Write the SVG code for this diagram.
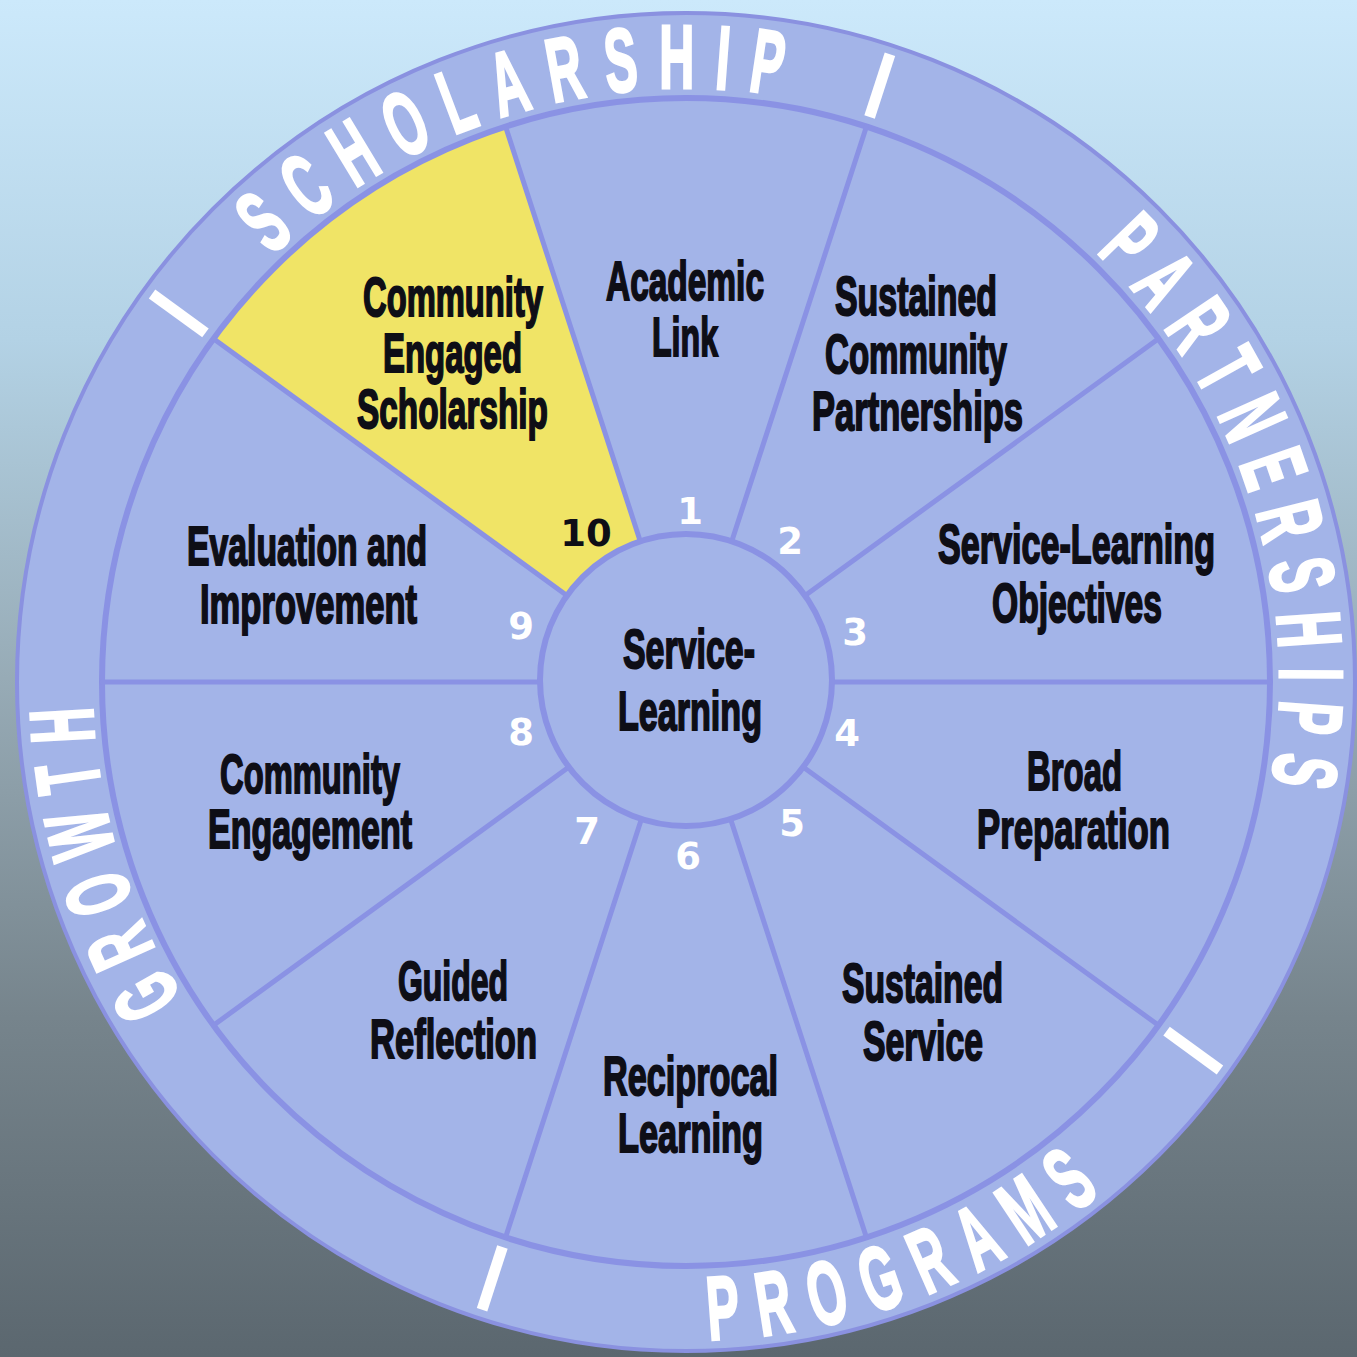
<svg xmlns="http://www.w3.org/2000/svg" width="1357" height="1357" viewBox="0 0 1357 1357">
<defs>
<linearGradient id="bg" x1="0" y1="0" x2="0" y2="1">
<stop offset="0" stop-color="#cce9fb"/>
<stop offset="0.25" stop-color="#b3d2e5"/>
<stop offset="0.5" stop-color="#97abb6"/>
<stop offset="0.75" stop-color="#76848c"/>
<stop offset="1" stop-color="#5b676f"/>
</linearGradient>
<path id="pSch" d="M 271.9 256.2 A 594 594 0 0 1 889.2 123.8"/>
<path id="pPar" d="M 1096.0 252.1 A 594 594 0 0 1 1244.2 885.2"/>
<path id="pGro" d="M 182.8 997.7 A 594 594 0 0 1 127.8 478.8"/>
<path id="pPro" d="M 709.0 1339.6 A 658 658 0 0 0 1190.1 1105.0"/>
</defs>
<style>
.seg{fill:#a3b4e8}
.hl{fill:#f0e466}
.div{stroke:#8a92e4;stroke-width:5;fill:none;stroke-linecap:round}
.lbl{font-family:"Liberation Sans",Arial,sans-serif;font-weight:bold;font-size:56px;fill:#0e0e16;stroke:#0e0e16;stroke-width:2;text-anchor:middle}
.num{font-family:"DejaVu Sans",sans-serif;font-weight:bold;font-size:37px;fill:#ffffff;text-anchor:middle}
.ring{font-family:"Liberation Sans",Arial,sans-serif;font-weight:bold;font-size:90px;fill:#ffffff;stroke:#ffffff;stroke-width:3}
.bar{stroke:#ffffff;stroke-width:11}
</style>
<rect width="1357" height="1357" fill="url(#bg)"/>
<g id="outer-ring">
<circle cx="686" cy="682" r="669" fill="#a3b4e8" stroke="#8a91e0" stroke-width="4"/>
<line class="bar" x1="869.56" y1="117.07" x2="889.95" y2="54.30"/>
<line class="bar" x1="205.44" y1="332.85" x2="152.05" y2="294.06"/>
<line class="bar" x1="502.44" y1="1246.93" x2="482.05" y2="1309.70"/>
<line class="bar" x1="1166.56" y1="1031.15" x2="1219.95" y2="1069.94"/>
<text class="ring" style="letter-spacing:37px"><textPath href="#pSch" textLength="572" lengthAdjust="spacingAndGlyphs">SCHOLARSHIP</textPath></text>
<text class="ring" style="letter-spacing:34px"><textPath href="#pPar" textLength="600" lengthAdjust="spacingAndGlyphs">PARTNERSHIPS</textPath></text>
<text class="ring" style="letter-spacing:33px"><textPath href="#pGro" textLength="326" lengthAdjust="spacingAndGlyphs">GROWTH</textPath></text>
<text class="ring" style="letter-spacing:37px"><textPath href="#pPro" textLength="446" lengthAdjust="spacingAndGlyphs">PROGRAMS</textPath></text>
</g>
<g id="seg1">
<path class="seg" d="M 505.53 126.58 A 584 584 0 0 1 866.47 126.58 L 731.12 543.15 A 146 146 0 0 0 640.88 543.15 Z"/>
<text class="lbl" x="685" y="300" textLength="158" lengthAdjust="spacingAndGlyphs">Academic</text>
<text class="lbl" x="685" y="356" textLength="66" lengthAdjust="spacingAndGlyphs">Link</text>
<text class="num" x="690" y="523.5">1</text>
</g>
<g id="seg2">
<path class="seg" d="M 866.47 126.58 A 584 584 0 0 1 1158.47 338.73 L 804.12 596.18 A 146 146 0 0 0 731.12 543.15 Z"/>
<text class="lbl" x="916" y="315" textLength="162" lengthAdjust="spacingAndGlyphs">Sustained</text>
<text class="lbl" x="916" y="373" textLength="182" lengthAdjust="spacingAndGlyphs">Community</text>
<text class="lbl" x="917.5" y="430" textLength="211" lengthAdjust="spacingAndGlyphs">Partnerships</text>
<text class="num" x="790" y="553.5">2</text>
</g>
<g id="seg3">
<path class="seg" d="M 1158.47 338.73 A 584 584 0 0 1 1270 682 L 832 682 A 146 146 0 0 0 804.12 596.18 Z"/>
<text class="lbl" x="1076.5" y="563" textLength="277" lengthAdjust="spacingAndGlyphs">Service-Learning</text>
<text class="lbl" x="1077" y="622" textLength="170" lengthAdjust="spacingAndGlyphs">Objectives</text>
<text class="num" x="855" y="644.5">3</text>
</g>
<g id="seg4">
<path class="seg" d="M 1270 682 A 584 584 0 0 1 1158.47 1025.27 L 804.12 767.82 A 146 146 0 0 0 832 682 Z"/>
<text class="lbl" x="1074.5" y="790" textLength="95" lengthAdjust="spacingAndGlyphs">Broad</text>
<text class="lbl" x="1073.5" y="848" textLength="193" lengthAdjust="spacingAndGlyphs">Preparation</text>
<text class="num" x="847" y="745.5">4</text>
</g>
<g id="seg5">
<path class="seg" d="M 1158.47 1025.27 A 584 584 0 0 1 866.47 1237.42 L 731.12 820.85 A 146 146 0 0 0 804.12 767.82 Z"/>
<text class="lbl" x="922.5" y="1002" textLength="161" lengthAdjust="spacingAndGlyphs">Sustained</text>
<text class="lbl" x="923" y="1060" textLength="120" lengthAdjust="spacingAndGlyphs">Service</text>
<text class="num" x="792" y="835.5">5</text>
</g>
<g id="seg6">
<path class="seg" d="M 866.47 1237.42 A 584 584 0 0 1 505.53 1237.42 L 640.88 820.85 A 146 146 0 0 0 731.12 820.85 Z"/>
<text class="lbl" x="690.5" y="1095" textLength="175" lengthAdjust="spacingAndGlyphs">Reciprocal</text>
<text class="lbl" x="690.5" y="1152" textLength="145" lengthAdjust="spacingAndGlyphs">Learning</text>
<text class="num" x="688" y="868.5">6</text>
</g>
<g id="seg7">
<path class="seg" d="M 505.53 1237.42 A 584 584 0 0 1 213.53 1025.27 L 567.88 767.82 A 146 146 0 0 0 640.88 820.85 Z"/>
<text class="lbl" x="453" y="1000" textLength="110" lengthAdjust="spacingAndGlyphs">Guided</text>
<text class="lbl" x="453.5" y="1058" textLength="167" lengthAdjust="spacingAndGlyphs">Reflection</text>
<text class="num" x="587" y="843.5">7</text>
</g>
<g id="seg8">
<path class="seg" d="M 213.53 1025.27 A 584 584 0 0 1 102 682 L 540 682 A 146 146 0 0 0 567.88 767.82 Z"/>
<text class="lbl" x="310" y="793" textLength="180" lengthAdjust="spacingAndGlyphs">Community</text>
<text class="lbl" x="310" y="848" textLength="204" lengthAdjust="spacingAndGlyphs">Engagement</text>
<text class="num" x="521" y="744.5">8</text>
</g>
<g id="seg9">
<path class="seg" d="M 102 682 A 584 584 0 0 1 213.53 338.73 L 567.88 596.18 A 146 146 0 0 0 540 682 Z"/>
<text class="lbl" x="307" y="565" textLength="240" lengthAdjust="spacingAndGlyphs">Evaluation and</text>
<text class="lbl" x="308.5" y="623" textLength="217" lengthAdjust="spacingAndGlyphs">Improvement</text>
<text class="num" x="521" y="638.5">9</text>
</g>
<g id="seg10">
<path class="hl" d="M 213.53 338.73 A 584 584 0 0 1 505.53 126.58 L 640.88 543.15 A 146 146 0 0 0 567.88 596.18 Z"/>
<text class="lbl" x="453" y="316" textLength="180" lengthAdjust="spacingAndGlyphs">Community</text>
<text class="lbl" x="452.5" y="372" textLength="139" lengthAdjust="spacingAndGlyphs">Engaged</text>
<text class="lbl" x="452.5" y="428" textLength="191" lengthAdjust="spacingAndGlyphs">Scholarship</text>
<text class="num" x="586" y="545.5" style="fill:#0e0e16">10</text>
</g>
<g id="connectors">
<circle class="div" cx="686" cy="682" r="584" style="stroke-width:6"/>
<line class="div" x1="832" y1="682" x2="1270" y2="682"/>
<line class="div" x1="804.12" y1="596.18" x2="1158.47" y2="338.73"/>
<line class="div" x1="731.12" y1="543.15" x2="866.47" y2="126.58"/>
<line class="div" x1="640.88" y1="543.15" x2="505.53" y2="126.58"/>
<line class="div" x1="567.88" y1="596.18" x2="213.53" y2="338.73"/>
<line class="div" x1="540" y1="682" x2="102" y2="682"/>
<line class="div" x1="567.88" y1="767.82" x2="213.53" y2="1025.27"/>
<line class="div" x1="640.88" y1="820.85" x2="505.53" y2="1237.42"/>
<line class="div" x1="731.12" y1="820.85" x2="866.47" y2="1237.42"/>
<line class="div" x1="804.12" y1="767.82" x2="1158.47" y2="1025.27"/>
</g>
<g id="center">
<circle cx="686" cy="680" r="146" fill="#a3b4e8" stroke="#8a92e4" stroke-width="6"/>
<text class="lbl" x="689" y="668" textLength="132" lengthAdjust="spacingAndGlyphs">Service-</text>
<text class="lbl" x="690" y="730" textLength="144" lengthAdjust="spacingAndGlyphs">Learning</text>
</g>
</svg>
